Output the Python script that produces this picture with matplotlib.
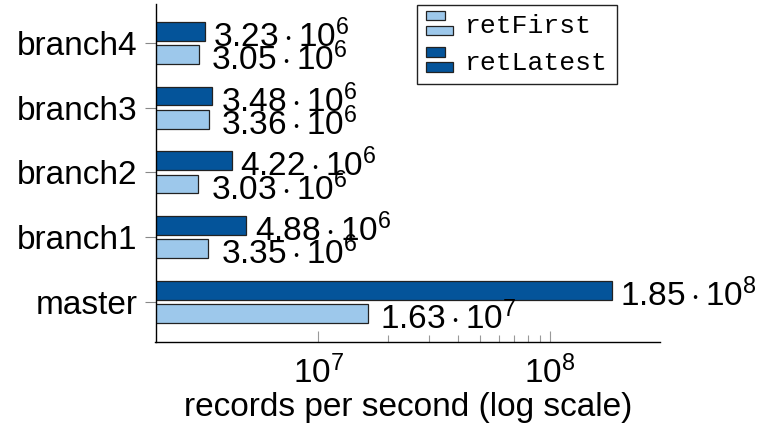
import matplotlib
matplotlib.use("Agg")
import matplotlib.pyplot as plt
import matplotlib.ticker as mticker
from matplotlib.patches import Rectangle
from matplotlib.legend_handler import HandlerBase

categories = ["master", "branch1", "branch2", "branch3", "branch4"]
ret_first = [1.63e7, 3.35e6, 3.03e6, 3.36e6, 3.05e6]
ret_latest = [1.85e8, 4.88e6, 4.22e6, 3.48e6, 3.23e6]
first_labels = [r"$1.63\cdot10^{7}$", r"$3.35\cdot10^{6}$", r"$3.03\cdot10^{6}$",
                r"$3.36\cdot10^{6}$", r"$3.05\cdot10^{6}$"]
latest_labels = [r"$1.85\cdot10^{8}$", r"$4.88\cdot10^{6}$", r"$4.22\cdot10^{6}$",
                 r"$3.48\cdot10^{6}$", r"$3.23\cdot10^{6}$"]

LIGHT = "#9dc8eb"
DARK = "#04549a"
XMIN, XMAX = 1.98e6, 2.98e8

plt.rcParams["font.family"] = ["Liberation Sans", "DejaVu Sans"]
plt.rcParams["mathtext.fontset"] = "custom"
plt.rcParams["mathtext.rm"] = "Liberation Sans"
plt.rcParams["mathtext.it"] = "Liberation Sans:italic"
plt.rcParams["mathtext.bf"] = "Liberation Sans:bold"


class BarPairHandler(HandlerBase):
    # pgfplots-style legend image: two small stacked bars
    def create_artists(self, legend, orig, xd, yd, w, h, fs, trans):
        c = orig.get_facecolor()
        r1 = Rectangle((xd, yd + h * 0.55), w * 0.72, h * 0.45, fc=c, ec="#222222", lw=0.9, transform=trans)
        r2 = Rectangle((xd, yd - h * 0.15), w, h * 0.45, fc=c, ec="#222222", lw=0.9, transform=trans)
        return [r1, r2]


fig = plt.figure(figsize=(7.71, 4.25), dpi=100)
ax = fig.add_axes([155.5 / 771, 1 - 342 / 425, (660 - 155.5) / 771, (342 - 4) / 425])

ypos = list(range(len(categories)))
off, hgt = 0.18, 0.29
b_first = ax.barh([y - off for y in ypos], [v - XMIN for v in ret_first], left=XMIN, height=hgt,
                  color=LIGHT, edgecolor="#222222", linewidth=0.9, label="retFirst")
b_latest = ax.barh([y + off for y in ypos], [v - XMIN for v in ret_latest], left=XMIN, height=hgt,
                   color=DARK, edgecolor="#222222", linewidth=0.9, label="retLatest")

ax.set_xscale("log")
ax.set_xlim(XMIN, XMAX)
ax.set_ylim(-0.62, 4.6)

for y, v, s in zip(ypos, ret_first, first_labels):
    ax.annotate(s, (v, y - off), xytext=(9, -4), textcoords="offset points",
                va="center", ha="left", fontsize=24)
for y, v, s in zip(ypos, ret_latest, latest_labels):
    ax.annotate(s, (v, y + off), xytext=(6, -4), textcoords="offset points",
                va="center", ha="left", fontsize=24)

ax.set_yticks(ypos)
ax.set_yticklabels(categories, fontsize=24)
ax.tick_params(axis="y", direction="out", length=8, width=0.8, color="#888888", pad=5)
ax.xaxis.set_major_locator(mticker.FixedLocator([1e7, 1e8]))
ax.xaxis.set_minor_locator(mticker.FixedLocator([k * 1e7 for k in range(2, 10)]))
ax.xaxis.set_minor_formatter(mticker.NullFormatter())
ax.tick_params(axis="x", which="major", direction="in", length=8, width=0.8,
               color="#999999", labelsize=24, pad=10)
ax.tick_params(axis="x", which="minor", direction="in", length=5, width=0.8, color="#999999")
ax.set_xlabel("records per second (log scale)", fontsize=24, labelpad=1)

for sp in ["top", "right"]:
    ax.spines[sp].set_visible(False)
ax.spines["left"].set_linewidth(1.0)
ax.spines["bottom"].set_linewidth(1.0)

leg = fig.legend([b_first.patches[0], b_latest.patches[0]], ["retFirst", "retLatest"],
                 handler_map={matplotlib.patches.Rectangle: BarPairHandler()},
                 loc="upper left", bbox_to_anchor=(417 / 771, 1 - 4.5 / 425), borderaxespad=0,
                 prop={"family": ["Liberation Mono", "DejaVu Sans Mono"], "size": 19},
                 frameon=True, fancybox=False, edgecolor="#222222", framealpha=1,
                 handlelength=1.0, handleheight=0.85, handletextpad=0.45, labelspacing=0.45,
                 borderpad=0.35)
leg.get_frame().set_linewidth(1.0)

fig.savefig("out.png", dpi=100)
